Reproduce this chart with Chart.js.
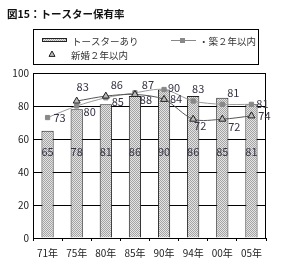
<!DOCTYPE html>
<html><head><meta charset="utf-8">
<script src="https://cdn.jsdelivr.net/npm/chart.js@4"></script>
<style>body{margin:0;background:#fff}#wrap{position:relative;width:283px;height:260px}</style>
</head><body><div id="wrap"><canvas id="c" width="283" height="260"></canvas></div>
<script>
const years = ['71年', '75年', '80年', '85年', '90年', '94年', '00年', '05年'];
const toaster = [65, 78, 81, 86, 90, 86, 85, 81];
const chiku2 = [73, 80, 85, 88, 90, 83, 81, 81];
const shinkon2 = [null, 83, 86, 87, 84, 72, 72, 74];
const seriesNames = ['トースターあり', '・築２年以内', '新婚２年以内'];
const titleText = '図15：トースター保有率';

// label offsets (px) next to the markers
const chikuOff = [[12, 0], [13, 6], [12, 4], [11, 7], [10, -2], [5, -12], [11, -12], [11, -1]];
const shinOff = [null, [6, -14], [11, -11], [13, -10], [12, -1], [7, 7], [12, 8], [13, 0]];

const FONT = '"Noto Sans CJK JP", "Noto Sans", sans-serif';

function dotPattern() {
    const p = document.createElement('canvas');
    p.width = 2; p.height = 2;
    const g = p.getContext('2d');
    g.fillStyle = '#e4e4e4'; g.fillRect(0, 0, 2, 2);
    g.fillStyle = '#a4a4a4'; g.fillRect(0, 0, 1, 1); g.fillRect(1, 1, 1, 1);
    return g.createPattern(p, 'repeat');
}
const barFill = dotPattern();

function drawTriangle(ctx, x, y, s) {
    ctx.beginPath();
    ctx.moveTo(x, y - s);
    ctx.lineTo(x + s, y + s * 0.8);
    ctx.lineTo(x - s, y + s * 0.8);
    ctx.closePath();
    ctx.fillStyle = '#bbb';
    ctx.fill();
    ctx.strokeStyle = '#222';
    ctx.lineWidth = 1;
    ctx.stroke();
}

const extras = {
    id: 'extras',
    afterDraw(chart) {
        const ctx = chart.ctx;
        const a = chart.chartArea;
        ctx.save();
        // plot border
        ctx.strokeStyle = '#000';
        ctx.lineWidth = 1;
        ctx.strokeRect(a.left + 0.5, a.top + 0.5, a.right - a.left - 1, a.bottom - a.top);

        // bar labels
        ctx.font = '11px ' + FONT;
        ctx.fillStyle = '#334';
        ctx.textAlign = 'center';
        ctx.textBaseline = 'middle';
        const ys = chart.scales.y;
        chart.getDatasetMeta(0).data.forEach((el, i) => {
            ctx.fillText(String(toaster[i]), el.x, ys.getPixelForValue(52));
        });
        // line labels
        chart.getDatasetMeta(1).data.forEach((el, i) => {
            const o = chikuOff[i];
            ctx.fillText(String(chiku2[i]), el.x + o[0], el.y + o[1]);
        });
        chart.getDatasetMeta(2).data.forEach((el, i) => {
            if (shinkon2[i] == null) return;
            const o = shinOff[i];
            ctx.fillText(String(shinkon2[i]), el.x + o[0], el.y + o[1]);
        });

        // title
        ctx.textAlign = 'left';
        ctx.fillStyle = '#111';
        ctx.font = 'bold 10.5px ' + FONT;
        ctx.fillText(titleText, 7, 14);

        // legend box
        ctx.strokeStyle = '#000';
        ctx.strokeRect(33.5, 29.5, 225, 35);
        ctx.font = '9.5px ' + FONT;
        // bar swatch
        ctx.fillStyle = barFill;
        ctx.fillRect(42, 38, 25, 4);
        ctx.strokeStyle = '#222';
        ctx.strokeRect(42.5, 38.5, 24, 3);
        ctx.fillStyle = '#333';
        ctx.fillText(seriesNames[0], 72, 41);
        // line swatch
        ctx.strokeStyle = '#888';
        ctx.beginPath(); ctx.moveTo(171, 40.5); ctx.lineTo(196, 40.5); ctx.stroke();
        ctx.fillStyle = '#888';
        ctx.fillRect(180, 38, 5, 5);
        ctx.fillStyle = '#333';
        ctx.fillText(seriesNames[1], 199, 41);
        // triangle swatch
        drawTriangle(ctx, 52, 54, 3);
        ctx.fillStyle = '#333';
        ctx.fillText(seriesNames[2], 71, 55);
        ctx.restore();
    }
};

new Chart(document.getElementById('c'), {
    type: 'bar',
    data: {
        labels: years,
        datasets: [{
            type: 'bar',
            label: seriesNames[0],
            data: toaster,
            backgroundColor: barFill,
            borderColor: '#222',
            borderWidth: 1,
            barPercentage: 0.84,
            categoryPercentage: 0.5,
            order: 3
        }, {
            type: 'line',
            label: seriesNames[1],
            data: chiku2,
            borderColor: '#999',
            borderWidth: 1,
            pointStyle: 'rect',
            pointRadius: 3,
            pointBackgroundColor: '#888',
            pointBorderColor: '#888',
            tension: 0.3,
            order: 2
        }, {
            type: 'line',
            label: seriesNames[2],
            data: shinkon2,
            borderColor: '#555',
            borderWidth: 1,
            pointStyle: 'triangle',
            pointRadius: 4,
            pointBackgroundColor: '#bbb',
            pointBorderColor: '#222',
            tension: 0.3,
            order: 1
        }]
    },
    options: {
        responsive: false,
        animation: false,
        layout: { padding: { top: 73, right: 17, left: 0, bottom: 0 } },
        plugins: { legend: { display: false }, tooltip: { enabled: false } },
        scales: {
            y: {
                min: 0, max: 100,
                ticks: { stepSize: 20, color: '#222', font: { size: 10, family: FONT }, padding: 4 },
                grid: {
                    color: c => (c.tick.value === 0 || c.tick.value === 100) ? 'rgba(0,0,0,0)' : '#000',
                    drawTicks: false
                },
                border: { color: '#000' },
                afterFit: s => { s.width = 33; }
            },
            x: {
                ticks: { color: '#222', font: { size: 10, family: FONT }, padding: 6 },
                grid: { drawOnChartArea: false, offset: true, tickLength: 3, color: '#000' },
                border: { color: '#000' },
                afterFit: s => { s.height = 22; }
            }
        }
    },
    plugins: [extras]
});
</script>
</body></html>
